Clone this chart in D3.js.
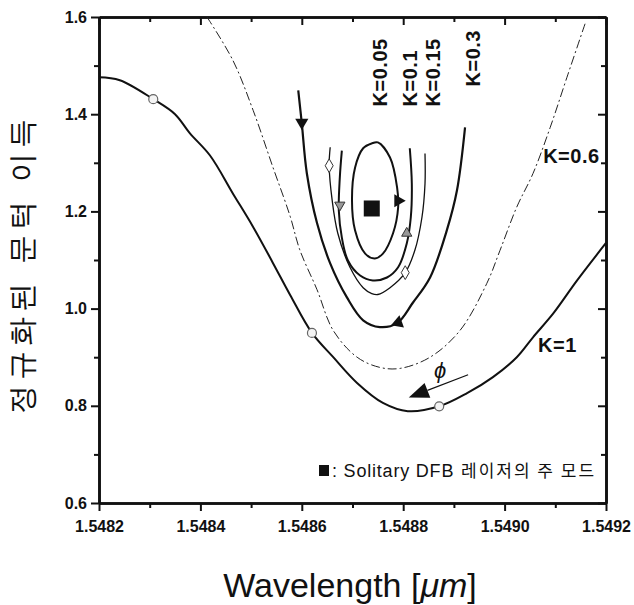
<!DOCTYPE html>
<html>
<head>
<meta charset="utf-8">
<script src="https://cdn.jsdelivr.net/npm/d3@7"></script>
<style>
  body { margin: 0; background: #fff; }
  svg { display: block; }
  text { font-family: "Liberation Sans", Arial, sans-serif; fill: #111; }
</style>
</head>
<body>
<svg width="634" height="605"></svg>
<script>
// wavelength [um] vs normalized threshold gain, one array per feedback level K
var curveK1 = [[1.5482, 1.476], [1.548241, 1.470], [1.548307, 1.431], [1.548350, 1.400], [1.548379, 1.361],
    [1.548419, 1.315], [1.548464, 1.237], [1.548504, 1.168], [1.548543, 1.094], [1.548577, 1.028],
    [1.548620, 0.950], [1.548662, 0.900], [1.548709, 0.847], [1.548760, 0.806], [1.548809, 0.789],
    [1.548871, 0.799], [1.548926, 0.826], [1.548977, 0.859], [1.549024, 0.900], [1.549056, 0.941],
    [1.549096, 0.990], [1.549143, 1.058], [1.5492, 1.135]];
var curveK06 = [[1.548413, 1.600], [1.548464, 1.511], [1.548504, 1.408], [1.548543, 1.291], [1.548577, 1.190],
    [1.548596, 1.121], [1.548630, 1.039], [1.548662, 0.955], [1.548709, 0.900], [1.548754, 0.879],
    [1.548794, 0.877], [1.548853, 0.900], [1.548912, 0.955], [1.548965, 1.052], [1.548991, 1.120],
    [1.549024, 1.209], [1.549056, 1.278], [1.549090, 1.373], [1.549123, 1.476], [1.549159, 1.587]];
var curveK03 = [[1.548593, 1.449], [1.548600, 1.381], [1.548610, 1.278], [1.548630, 1.176], [1.548656, 1.093],
    [1.548689, 1.023], [1.548721, 0.976], [1.548754, 0.962], [1.548788, 0.970], [1.548819, 1.012],
    [1.548853, 1.064], [1.548886, 1.161], [1.548906, 1.243], [1.548922, 1.373]];
var curveK015 = [[1.548656, 1.332], [1.548654, 1.294], [1.548660, 1.222], [1.548671, 1.155], [1.548695, 1.085],
    [1.548721, 1.043], [1.548738, 1.031], [1.548750, 1.029], [1.548774, 1.043], [1.548804, 1.074],
    [1.548823, 1.120], [1.548837, 1.188], [1.548843, 1.257], [1.548843, 1.319]];
var curveK01 = [[1.548679, 1.325], [1.548675, 1.270], [1.548673, 1.202], [1.548679, 1.146], [1.548691, 1.099],
    [1.548715, 1.068], [1.548740, 1.058], [1.548768, 1.064], [1.548790, 1.085], [1.548807, 1.134],
    [1.548815, 1.188], [1.548817, 1.257], [1.548813, 1.330]];
var curveK005 = [[1.548750, 1.342], [1.548774, 1.311], [1.548788, 1.249], [1.548790, 1.208], [1.548780, 1.155],
    [1.548760, 1.113], [1.548744, 1.103], [1.548725, 1.113], [1.548705, 1.161], [1.548699, 1.223],
    [1.548705, 1.290], [1.548721, 1.330], [1.548738, 1.340]];

// markers on the curves: [wavelength, gain] (+ pointing angle for triangles)
var circlesK1 = [[1.548307, 1.431], [1.548620, 0.950], [1.548871, 0.799]];
var diamondsK015 = [[1.548654, 1.294], [1.548804, 1.074]];
var trianglesK01 = [[1.548675, 1.213, 180], [1.548807, 1.155, 0]];
var arrowsK03 = [[1.548600, 1.383, 180], [1.548790, 0.971, 130]];
var arrowsK005 = [[1.548790, 1.222, 90]];
var solitaryMode = [1.548738, 1.206];
var phiArrow = [[1.548928, 0.864], [1.548811, 0.817]];

var xTicks = [1.5482, 1.5484, 1.5486, 1.5488, 1.5490, 1.5492];
var xMinor = [1.5483, 1.5485, 1.5487, 1.5489, 1.5491];
var yTicks = [0.6, 0.8, 1.0, 1.2, 1.4, 1.6];
var yMinor = [0.7, 0.9, 1.1, 1.3, 1.5];

var curveLabels = [
    {text: "K=0.05", x: 1.548769, y: 1.416, rot: true},
    {text: "K=0.1", x: 1.548828, y: 1.416, rot: true},
    {text: "K=0.15", x: 1.548872, y: 1.416, rot: true},
    {text: "K=0.3", x: 1.548951, y: 1.457, rot: true},
    {text: "K=0.6", x: 1.549076, y: 1.30, rot: false},
    {text: "K=1", x: 1.549066, y: 0.910, rot: false}
];

var svg = d3.select("svg");
var margin = {top: 17, left: 99, right: 28, bottom: 102};
var width = 634 - margin.left - margin.right;
var height = 605 - margin.top - margin.bottom;

var g = svg.append("g").attr("transform", "translate(" + margin.left + "," + margin.top + ")");

var x = d3.scaleLinear().domain([1.5482, 1.5492]).range([0, width]);
var y = d3.scaleLinear().domain([0.6, 1.6]).range([height, 0]);

function styleAxis(sel) {
    sel.select(".domain").attr("stroke", "#111").attr("stroke-width", 2.6);
    sel.selectAll(".tick line").attr("stroke", "#111").attr("stroke-width", 2);
    sel.selectAll("text").attr("font-size", 16).attr("font-weight", "bold").attr("fill", "#111")
        .attr("font-family", "'Liberation Sans', Arial, sans-serif");
}

// minor ticks first so the frame sits on top
g.append("g").attr("transform", "translate(0," + height + ")")
    .call(d3.axisBottom(x).tickValues(xMinor).tickSize(5).tickSizeOuter(0).tickFormat(""))
    .call(styleAxis);
g.append("g")
    .call(d3.axisTop(x).tickValues(xMinor).tickSize(-5).tickSizeOuter(0).tickFormat(""))
    .call(styleAxis);
g.append("g")
    .call(d3.axisLeft(y).tickValues(yMinor).tickSize(5).tickSizeOuter(0).tickFormat(""))
    .call(styleAxis);
g.append("g").attr("transform", "translate(" + width + ",0)")
    .call(d3.axisRight(y).tickValues(yMinor).tickSize(-5).tickSizeOuter(0).tickFormat(""))
    .call(styleAxis);

g.append("g").attr("transform", "translate(0," + height + ")")
    .call(d3.axisBottom(x).tickValues(xTicks).tickSize(8).tickSizeOuter(0).tickPadding(10).tickFormat(d3.format(".4f")))
    .call(styleAxis);
g.append("g")
    .call(d3.axisTop(x).tickValues(xTicks).tickSize(-8).tickSizeOuter(0).tickFormat(""))
    .call(styleAxis);
g.append("g")
    .call(d3.axisLeft(y).tickValues(yTicks).tickSize(8).tickSizeOuter(0).tickPadding(4).tickFormat(d3.format(".1f")))
    .call(styleAxis);
g.append("g").attr("transform", "translate(" + width + ",0)")
    .call(d3.axisRight(y).tickValues(yTicks).tickSize(-8).tickSizeOuter(0).tickFormat(""))
    .call(styleAxis);

var line = d3.line()
    .x(function(d) { return x(d[0]); })
    .y(function(d) { return y(d[1]); })
    .curve(d3.curveCatmullRom.alpha(0.5));

var plot = g.append("g");

plot.append("path").datum(curveK06)
    .attr("fill", "none").attr("stroke", "#222").attr("stroke-width", 1)
    .attr("stroke-dasharray", "9,3,2,3").attr("d", line);
plot.append("path").datum(curveK1)
    .attr("fill", "none").attr("stroke", "#111").attr("stroke-width", 2).attr("d", line);
plot.append("path").datum(curveK03)
    .attr("fill", "none").attr("stroke", "#111").attr("stroke-width", 2.2).attr("d", line);
plot.append("path").datum(curveK015)
    .attr("fill", "none").attr("stroke", "#111").attr("stroke-width", 1.3).attr("d", line);
plot.append("path").datum(curveK01)
    .attr("fill", "none").attr("stroke", "#111").attr("stroke-width", 2).attr("d", line);
plot.append("path").datum(curveK005)
    .attr("fill", "none").attr("stroke", "#111").attr("stroke-width", 2)
    .attr("d", line.curve(d3.curveCatmullRomClosed.alpha(0.5)));

// markers
plot.selectAll(".k1dot").data(circlesK1).enter().append("circle")
    .attr("cx", function(d) { return x(d[0]); })
    .attr("cy", function(d) { return y(d[1]); })
    .attr("r", 4.5).attr("fill", "#f4f4f4").attr("stroke", "#666").attr("stroke-width", 1.2);

plot.selectAll(".k015dia").data(diamondsK015).enter().append("path")
    .attr("d", d3.symbol(d3.symbolDiamond, 55))
    .attr("transform", function(d) { return "translate(" + x(d[0]) + "," + y(d[1]) + ")"; })
    .attr("fill", "#fff").attr("stroke", "#333").attr("stroke-width", 1);

plot.selectAll(".k01tri").data(trianglesK01).enter().append("path")
    .attr("d", d3.symbol(d3.symbolTriangle, 45))
    .attr("transform", function(d) { return "translate(" + x(d[0]) + "," + y(d[1]) + ") rotate(" + d[2] + ")"; })
    .attr("fill", "#999").attr("stroke", "#333").attr("stroke-width", 1);

plot.selectAll(".k03arr").data(arrowsK03.concat(arrowsK005)).enter().append("path")
    .attr("d", d3.symbol(d3.symbolTriangle, 75))
    .attr("transform", function(d) { return "translate(" + x(d[0]) + "," + y(d[1]) + ") rotate(" + d[2] + ")"; })
    .attr("fill", "#111");

plot.append("rect")
    .attr("x", x(solitaryMode[0]) - 8).attr("y", y(solitaryMode[1]) - 8)
    .attr("width", 16).attr("height", 16).attr("fill", "#111");

// phase arrow
var p0 = [x(phiArrow[0][0]), y(phiArrow[0][1])];
var p1 = [x(phiArrow[1][0]), y(phiArrow[1][1])];
var ang = Math.atan2(p1[1] - p0[1], p1[0] - p0[0]);
var ux = Math.cos(ang), uy = Math.sin(ang);
var bx = p1[0] - 20 * ux, by = p1[1] - 20 * uy;
plot.append("line")
    .attr("x1", p0[0]).attr("y1", p0[1]).attr("x2", bx).attr("y2", by)
    .attr("stroke", "#111").attr("stroke-width", 1.2);
plot.append("path")
    .attr("d", "M" + p1[0] + "," + p1[1] +
        "L" + (bx - 8 * uy) + "," + (by + 8 * ux) +
        "L" + (bx + 8 * uy) + "," + (by - 8 * ux) + "Z")
    .attr("fill", "#111");
plot.append("text")
    .attr("x", x(1.548873)).attr("y", y(0.857))
    .attr("text-anchor", "middle")
    .attr("font-family", "'DejaVu Serif', serif")
    .attr("font-style", "italic").attr("font-size", 22)
    .text("\u03d5");

// curve labels
plot.selectAll(".klabel").data(curveLabels).enter().append("text")
    .attr("transform", function(d) {
        return "translate(" + x(d.x) + "," + y(d.y) + ")" + (d.rot ? " rotate(-90)" : "");
    })
    .attr("font-size", 20).attr("font-weight", "bold").attr("letter-spacing", 0.5)
    .text(function(d) { return d.text; });

// legend
svg.append("rect").attr("x", 319).attr("y", 465).attr("width", 10).attr("height", 11).attr("fill", "#111");
var leg = svg.append("text").attr("x", 332).attr("y", 477).attr("font-size", 18);
leg.append("tspan").attr("letter-spacing", 0.8).text(": Solitary DFB");
leg.append("tspan").attr("x", 461).attr("font-family", "'Noto Sans CJK KR', sans-serif")
    .attr("font-size", 17).attr("letter-spacing", 2).text("레이저의 주 모드");

// axis titles
svg.append("text")
    .attr("x", 350).attr("y", 597).attr("text-anchor", "middle").attr("font-size", 34)
    .html("Wavelength [<tspan font-style='italic'>\u03bcm</tspan>]");

svg.append("text")
    .attr("transform", "translate(32,264) rotate(-90)")
    .attr("text-anchor", "middle")
    .attr("font-family", "'Noto Sans CJK KR', sans-serif")
    .attr("font-size", 29).attr("letter-spacing", 5).attr("word-spacing", 1)
    .text("정규화된 문턱 이득");
</script>
</body>
</html>
